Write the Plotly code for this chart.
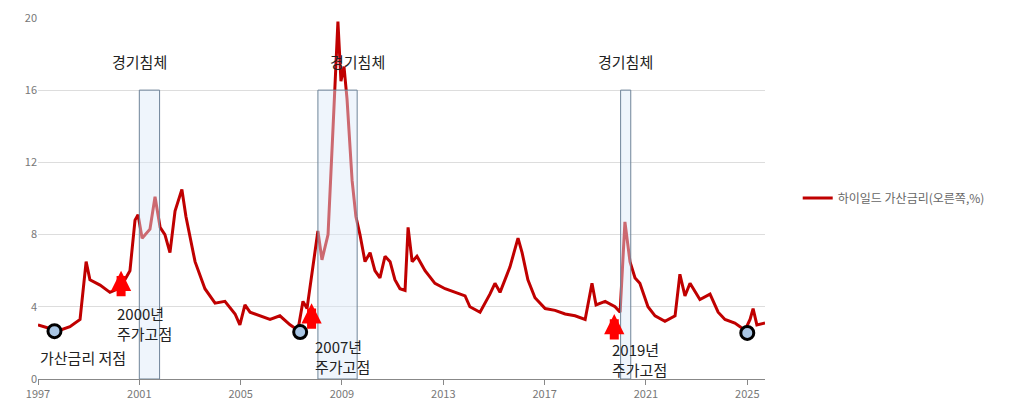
import plotly.graph_objects as go

# high-yield spread, decimal year vs percent
years = [1997.0, 1997.47, 1997.87, 1998.26, 1998.66, 1998.82, 1998.9, 1999.05, 1999.45, 1999.84,
         2000.16, 2000.43, 2000.63, 2000.83, 2000.95, 2001.11, 2001.42, 2001.62, 2001.82, 2002.01,
         2002.21, 2002.41, 2002.68, 2002.84, 2003.2, 2003.59, 2003.99, 2004.38, 2004.78, 2004.97,
         2005.17, 2005.37, 2005.76, 2006.16, 2006.55, 2006.95, 2007.26, 2007.46, 2007.62, 2007.82,
         2008.05, 2008.21, 2008.45, 2008.65, 2008.84, 2008.96, 2009.08, 2009.2, 2009.4, 2009.55,
         2009.71, 2009.91, 2010.11, 2010.3, 2010.5, 2010.7, 2010.9, 2011.09, 2011.29, 2011.49,
         2011.61, 2011.77, 2011.96, 2012.28, 2012.67, 2013.07, 2013.46, 2013.86, 2014.05, 2014.45,
         2014.84, 2015.04, 2015.24, 2015.63, 2015.95, 2016.11, 2016.34, 2016.62, 2017.02, 2017.41,
         2017.81, 2018.2, 2018.6, 2018.87, 2019.03, 2019.39, 2019.78, 2019.98, 2020.17, 2020.37,
         2020.57, 2020.76, 2021.08, 2021.36, 2021.75, 2022.15, 2022.34, 2022.54, 2022.74, 2023.13,
         2023.53, 2023.85, 2024.12, 2024.51, 2024.91, 2025.11, 2025.23, 2025.38, 2025.7]
spread = [3.0, 2.8, 2.7, 2.9, 3.3, 5.5, 6.5, 5.5, 5.2, 4.8,
          5.0, 5.5, 6.0, 8.8, 9.1, 7.8, 8.3, 10.1, 8.4, 8.0,
          7.0, 9.3, 10.5, 9.0, 6.5, 5.0, 4.2, 4.3, 3.6, 3.0,
          4.1, 3.7, 3.5, 3.3, 3.5, 3.0, 2.7, 4.3, 3.9, 5.8,
          8.2, 6.6, 8.0, 14.0, 19.8, 16.5, 17.3, 15.5, 11.0, 9.0,
          8.0, 6.5, 7.0, 6.0, 5.6, 6.8, 6.5, 5.5, 5.0, 4.9,
          8.4, 6.5, 6.8, 6.0, 5.3, 5.0, 4.8, 4.6, 4.0, 3.7,
          4.7, 5.3, 4.8, 6.2, 7.8, 7.0, 5.5, 4.5, 3.9, 3.8,
          3.6, 3.5, 3.3, 5.3, 4.1, 4.3, 4.0, 3.7, 8.7, 6.5,
          5.6, 5.3, 4.0, 3.5, 3.2, 3.5, 5.8, 4.6, 5.3, 4.4,
          4.7, 3.7, 3.3, 3.1, 2.7, 3.3, 3.9, 3.0, 3.1]

recessions = [(2001.0, 2001.8), (2008.05, 2009.6), (2020.0, 2020.4)]
recession_label_x = [2001.0, 2009.6, 2020.2]

lows_x = [1997.65, 2007.35, 2025.0]
lows_y = [2.65, 2.6, 2.55]
peaks_x = [2000.28, 2007.8, 2019.75]
peaks_y = [6.0, 4.2, 3.6]
peak_labels = ["2000년<br>주가고점", "2007년<br>주가고점", "2019년<br>주가고점"]
peak_label_x = [2000.04, 2007.85, 2019.6]
peak_label_y = [4.3, 2.5, 2.3]

fig = go.Figure()
fig.add_trace(go.Scatter(x=years, y=spread, mode="lines", name="하이일드 가산금리(오른쪽,%)",
                         line=dict(color="#C00000", width=3)))
fig.add_trace(go.Scatter(x=lows_x, y=lows_y, mode="markers", showlegend=False,
                         marker=dict(size=13, color="#A9C6E4", line=dict(color="black", width=3))))

# block arrows marking equity peaks
for px, py in zip(peaks_x, peaks_y):
    fig.add_annotation(x=px, y=py, ax=0, ay=27, text="", showarrow=True, arrowhead=2,
                       arrowsize=0.45, arrowwidth=9, arrowcolor="red")

for (x0, x1), lx in zip(recessions, recession_label_x):
    fig.add_shape(type="rect", x0=x0, x1=x1, y0=0, y1=16, layer="above",
                  fillcolor="rgba(220,232,248,0.45)", line=dict(color="#6F8499", width=1))
    fig.add_annotation(x=lx, y=17.6, text="경기침체", showarrow=False,
                       font=dict(size=15, color="#222"))

fig.add_annotation(x=1997.0, y=1.2, text="가산금리 저점", showarrow=False, xanchor="left",
                   font=dict(size=15, color="#222"))
for lx, ly, lab in zip(peak_label_x, peak_label_y, peak_labels):
    fig.add_annotation(x=lx, y=ly, text=lab, showarrow=False, xanchor="left", yanchor="top",
                       align="left", font=dict(size=15, color="#222"))

fig.update_layout(
    width=1024, height=413,
    margin=dict(l=30, r=267, t=9, b=42, autoexpand=False),
    plot_bgcolor="white", paper_bgcolor="white",
    font=dict(family="Noto Sans CJK KR, sans-serif", color="#555"),
    legend=dict(x=1.045, y=0.5, yanchor="middle", font=dict(size=12, color="#666")),
    xaxis=dict(range=[1997, 2025.7], tickvals=list(range(1997, 2026, 4)), showgrid=False,
               showline=True, linecolor="#888", ticks="outside", tickcolor="#888", ticklen=5,
               tickfont=dict(size=11, color="#777"), automargin=False),
    yaxis=dict(range=[0, 20.05], tickvals=[0, 4, 8, 12, 16, 20], gridcolor="#DDDDDD",
               zeroline=False, tickfont=dict(size=11, color="#777"), automargin=False),
)

fig.write_html("out.html")
